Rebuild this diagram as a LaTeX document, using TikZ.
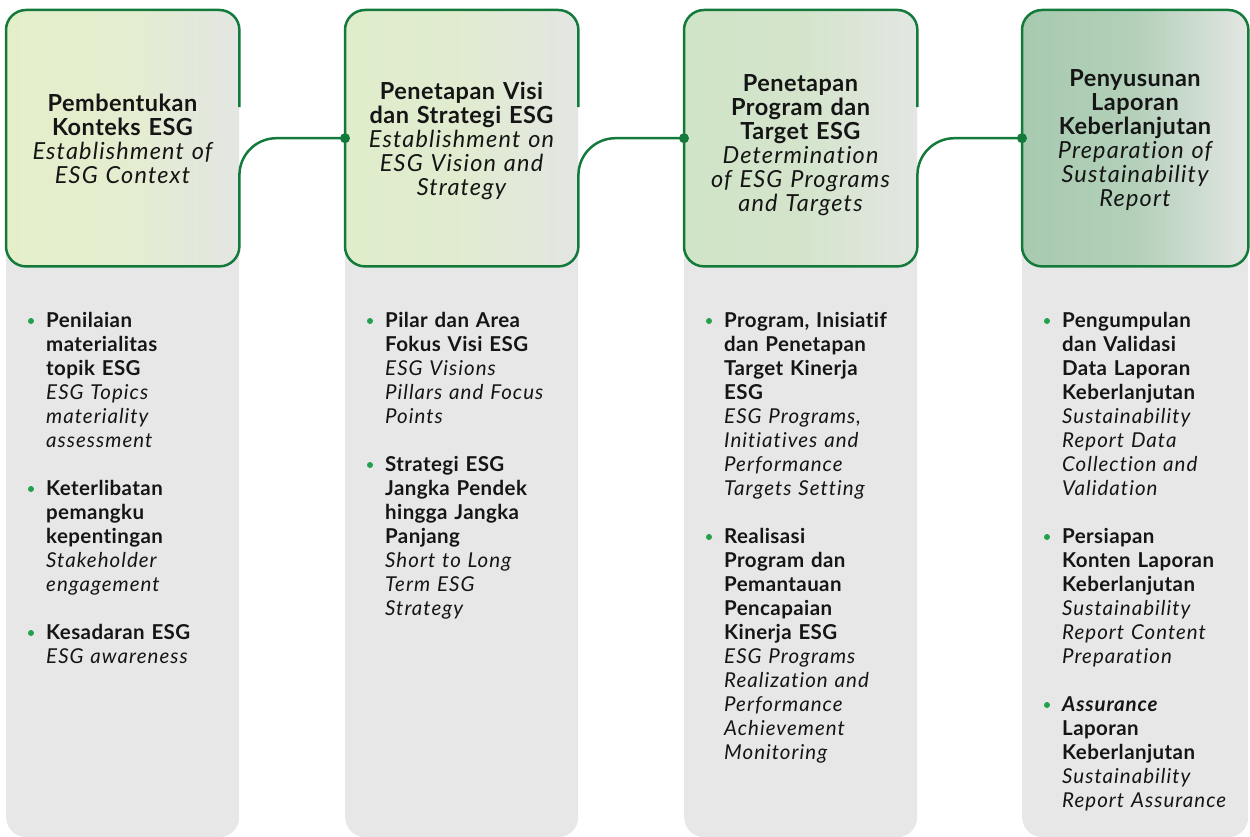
\documentclass[tikz,border=0pt]{standalone}
\usepackage{fontspec}
\setmainfont{Lato}[Ligatures=CommonOff, BoldFeatures={LetterSpace=2}, ItalicFeatures={LetterSpace=5}, BoldItalicFeatures={LetterSpace=4}]
\usetikzlibrary{calc}
\definecolor{panelgray}{HTML}{E6E7E6}
\definecolor{linegreen}{HTML}{137A3C}
\definecolor{dotgreen}{HTML}{22A04B}
\definecolor{cardgray}{HTML}{E3E6E2}
\definecolor{cardA}{HTML}{E4EFCA}
\definecolor{cardB}{HTML}{E0EDCB}
\definecolor{cardC}{HTML}{D0E4C6}
\definecolor{cardD}{HTML}{A7CAAF}
\definecolor{textdark}{HTML}{151515}
\begin{document}
\begin{tikzpicture}[x=1pt,y=-1pt,
  panel/.style={fill=panelgray, rounded corners=20pt, inner sep=0pt, minimum height=827pt, anchor=north west},
  cardbox/.style={left color=#1, right color=cardgray, middle color=#1!80!cardgray, rounded corners=20pt, inner sep=0pt, minimum height=256pt, anchor=north west},
  cardline/.style={draw=linegreen, line width=2.5pt},
  titletext/.style={text width=230pt, align=center, anchor=base, inner sep=0pt, text=textdark, font=\fontsize{23.5}{24}\selectfont},
  itembox/.style={text width=205pt, align=left, anchor=base west, inner sep=0pt, text=textdark, font=\fontsize{20.5}{24}\selectfont},
  bulletdot/.style={fill=dotgreen}
]
\useasboundingbox (0,0) rectangle (1250,837);

% gray panels
\node[panel, minimum width=233pt] (p1) at (6,10) {};
\node[panel, minimum width=233pt] (p2) at (345,10) {};
\node[panel, minimum width=233pt] (p3) at (684,10) {};
\node[panel, minimum width=226pt] (p4) at (1022,10) {};

% header cards
\node[cardbox=cardA, minimum width=233pt] (c1) at (6,10) {};
\node[cardbox=cardB, minimum width=233pt] (c2) at (345,10) {};
\node[cardbox=cardC, minimum width=233pt] (c3) at (684,10) {};
\node[cardbox=cardD, minimum width=226pt] (c4) at (1022,10) {};

% card borders
\foreach \c in {c1,c2,c3}{
  \draw[cardline, rounded corners=20pt] ([yshift=31pt]\c.east) -- (\c.north east) -- (\c.north west) -- (\c.south west) -- (\c.south east) -- ([yshift=-37pt]\c.east);
}
\draw[cardline, rounded corners=20pt] (c4.north west) rectangle (c4.south east);

% connectors
\draw[cardline, rounded corners=37pt] ([yshift=-37pt]c1.east) -- (c1.east) -- (c2.west);
\draw[cardline, rounded corners=37pt] ([yshift=-37pt]c2.east) -- (c2.east) -- (c3.west);
\draw[cardline, rounded corners=37pt] ([yshift=-37pt]c3.east) -- (c3.east) -- (c4.west);
\fill[linegreen] (c2.west) circle (5pt);
\fill[linegreen] (c3.west) circle (5pt);
\fill[linegreen] (c4.west) circle (5pt);

% titles
\node[titletext] (t1) at (122.5,112) {\bfseries Pembentukan\\Konteks ESG\\\mdseries\itshape Establishment of\\ESG Context};
\node[titletext] (t2) at (461.5,100) {\bfseries Penetapan Visi\\dan Strategi ESG\\\mdseries\itshape Establishment on\\ESG Vision and\\Strategy};
\node[titletext] (t3) at (800.5,92) {\bfseries Penetapan\\Program dan\\Target ESG\\\mdseries\itshape Determination\\of ESG Programs\\and Targets};
\node[titletext] (t4) at (1135,87) {\bfseries Penyusunan\\Laporan\\Keberlanjutan\\\mdseries\itshape Preparation of\\Sustainability\\Report};

% items column 1
\node[itembox] (b11) at (46,327) {\bfseries Penilaian\\materialitas\\topik ESG\\\mdseries\itshape ESG Topics\\materiality\\assessment};
\node[itembox] (b12) at (46,495) {\bfseries Keterlibatan\\pemangku\\kepentingan\\\mdseries\itshape Stakeholder\\engagement};
\node[itembox] (b13) at (46,639) {\bfseries Kesadaran ESG\\\mdseries\itshape ESG awareness};
% items column 2
\node[itembox] (b21) at (385,327) {\bfseries Pilar dan Area\\Fokus Visi ESG\\\mdseries\itshape ESG Visions\\Pillars and Focus\\Points};
\node[itembox] (b22) at (385,471) {\bfseries Strategi ESG\\Jangka Pendek\\hingga Jangka\\Panjang\\\mdseries\itshape Short to Long\\Term ESG\\Strategy};
% items column 3
\node[itembox] (b31) at (724,327) {\bfseries Program, Inisiatif\\dan Penetapan\\Target Kinerja\\ESG\\\mdseries\itshape ESG Programs,\\Initiatives and\\Performance\\Targets Setting};
\node[itembox] (b32) at (724,543) {\bfseries Realisasi\\Program dan\\Pemantauan\\Pencapaian\\Kinerja ESG\\\mdseries\itshape ESG Programs\\Realization and\\Performance\\Achievement\\Monitoring};
% items column 4
\node[itembox] (b41) at (1062,327) {\bfseries Pengumpulan\\dan Validasi\\Data Laporan\\Keberlanjutan\\\mdseries\itshape Sustainability\\Report Data\\Collection and\\Validation};
\node[itembox] (b42) at (1062,543) {\bfseries Persiapan\\Konten Laporan\\Keberlanjutan\\\mdseries\itshape Sustainability\\Report Content\\Preparation};
\node[itembox] (b43) at (1062,711) {\bfseries\itshape Assurance\\\upshape Laporan\\Keberlanjutan\\\mdseries\itshape Sustainability\\Report Assurance};

% bullet dots
\foreach \b in {b11,b12,b13,b21,b22,b31,b32,b41,b42,b43}{
  \fill[bulletdot] ([xshift=-15pt,yshift=6pt]\b.base west) circle (3pt);
}
\end{tikzpicture}
\end{document}
